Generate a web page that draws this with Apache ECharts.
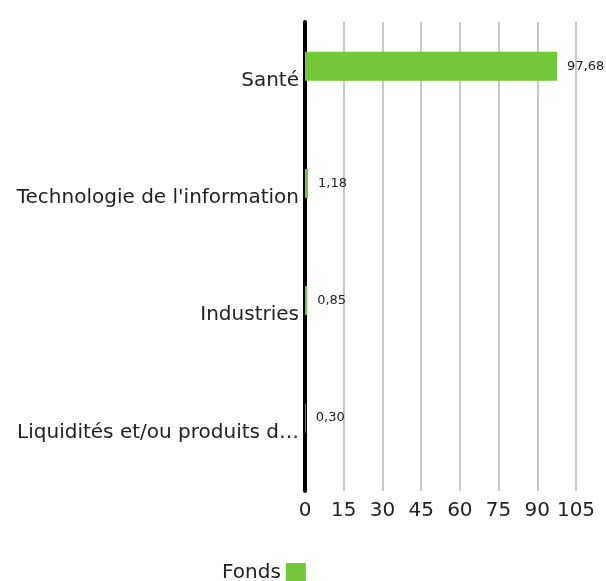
<!DOCTYPE html>
<html>
<head>
<meta charset="utf-8">
<script src="https://cdn.jsdelivr.net/npm/echarts@6/dist/echarts.min.js"></script>
<style>
html,body{margin:0;padding:0;background:#fff;}
#chart{width:606px;height:581px;}
</style>
</head>
<body>
<div id="chart"></div>
<script>
const categories = ["Santé", "Technologie de l'information", "Industries", "Liquidités et/ou produits dérivés"];
const fondsValues = [97.68, 1.18, 0.85, 0.30];
const xTicks = [0, 15, 30, 45, 60, 75, 90, 105];

const chart = echarts.init(document.getElementById('chart'));
const font = 'DejaVu Sans';
chart.setOption({
  animation: false,
  grid: { left: 305, right: 30, top: 22, bottom: 90, containLabel: false },
  legend: {
    data: ['Fonds'],
    left: 217, top: 558,
    align: 'right',
    itemWidth: 20, itemHeight: 20, itemGap: 8,
    icon: 'rect',
    textStyle: { fontFamily: font, fontSize: 20, color: '#222', padding: [4, 0, 0, 0] }
  },
  xAxis: {
    type: 'value', min: 0, max: 105, interval: 15,
    axisLine: { show: false }, axisTick: { show: false },
    splitLine: { show: true, lineStyle: { color: '#c8c8c8', width: 2 } },
    axisLabel: { fontFamily: font, fontSize: 20, color: '#222', margin: 10,
      formatter: v => xTicks.includes(v) ? String(v) : '' }
  },
  yAxis: {
    type: 'category', data: categories, inverse: true,
    axisLine: { show: true, lineStyle: { color: '#000', width: 4 } },
    axisTick: { show: false },
    axisLabel: { fontFamily: font, fontSize: 20, color: '#222', margin: 6,
      padding: [5, 0, 0, 0],
      width: 290, overflow: 'truncate', ellipsis: '…' }
  },
  series: [
    {
      name: 'Fonds', type: 'bar', data: fondsValues, barWidth: 29, barGap: '0%',
      itemStyle: { color: '#74c736' },
      label: { show: true, position: 'right', distance: 10, fontFamily: font, fontSize: 13, color: '#222',
        formatter: p => p.value.toFixed(2).replace('.', ',') }
    },
    {
      name: 'Indice', type: 'bar', data: [null, null, null, null], barWidth: 29,
      itemStyle: { color: '#cccccc' }
    }
  ]
});
</script>
</body>
</html>
